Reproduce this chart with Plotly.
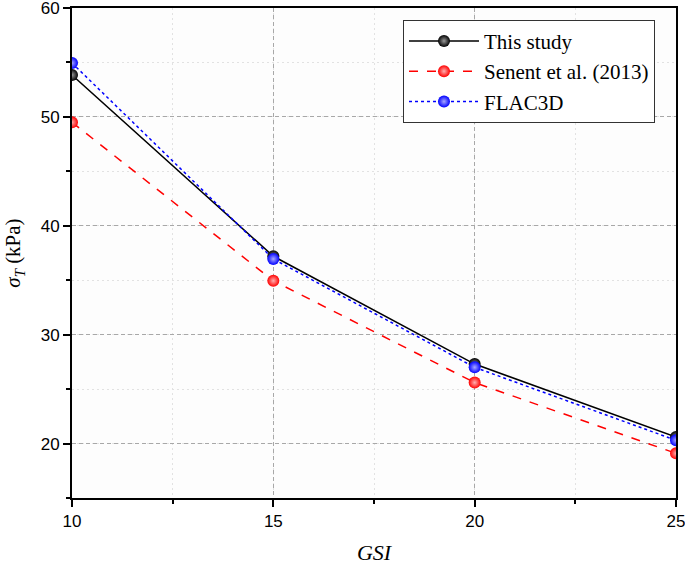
import plotly.graph_objects as go

gsi = [10, 15, 20, 25]
this_study = [53.85, 37.2, 27.3, 20.6]
senent = [49.5, 34.95, 25.6, 19.1]
flac3d = [54.95, 36.95, 27.0, 20.3]

series = [
    ("This study", this_study, "#000000", "#9A9A9A", "solid"),
    ("Senent et al. (2013)", senent, "#FF0000", "#FFB0B0", "dash"),
    ("FLAC3D", flac3d, "#0000FF", "#A8A8FF", "dot"),
]

fig = go.Figure()
for name, vals, color, shine, dash in series:
    fig.add_trace(go.Scatter(
        x=gsi, y=vals, name=name,
        mode="lines+markers",
        line=dict(color=color, width=1.5, dash=dash),
        marker=dict(size=12, color=color,
                    gradient=dict(type="radial", color=shine),
                    line=dict(width=0)),
    ))

axis_common = dict(
    showline=True, linecolor="black", linewidth=2, mirror=True,
    ticks="outside", ticklen=7, tickwidth=2, tickcolor="black",
    showgrid=True, gridcolor="#A8A8A8", griddash="4px,3px", gridwidth=1,
    zeroline=False, automargin=False, ticklabeloverflow="allow",
    tickfont=dict(family="Liberation Sans, Arial", size=17, color="black"),
)

fig.update_layout(
    width=685, height=565,
    paper_bgcolor="white",
    plot_bgcolor="#FDFDFD",
    margin=dict(l=72, r=9, t=8, b=67),
    xaxis=dict(
        range=[10, 25], tickvals=[10, 15, 20, 25],
        minor=dict(dtick=2.5, tick0=10, ticks="outside", ticklen=4, tickwidth=1.5,
                   tickcolor="black", showgrid=True, gridcolor="#E2E2E2", griddash="2px,3px"),
        title=dict(text="<i>GSI</i>", font=dict(family="Liberation Serif, Times New Roman", size=22, color="black"),
                   standoff=20),
        **axis_common,
    ),
    yaxis=dict(
        range=[15, 60], tickvals=[20, 30, 40, 50, 60],
        minor=dict(dtick=5, tick0=15, ticks="outside", ticklen=4, tickwidth=1.5,
                   tickcolor="black", showgrid=True, gridcolor="#E2E2E2", griddash="2px,3px"),
        title=dict(text="<i>σ</i><sub><i>T</i></sub> (kPa)",
                   font=dict(family="Liberation Serif, Times New Roman", size=21, color="black"),
                   standoff=14),
        **axis_common,
    ),
    legend=dict(
        x=0.548, y=0.976, xanchor="left", yanchor="top",
        bgcolor="white", bordercolor="#333333", borderwidth=1,
        font=dict(family="Liberation Serif, Times New Roman", size=21, color="black"),
        itemwidth=70, tracegroupgap=0,
    ),
    showlegend=True,
)

# page has a default 8px body margin; drop it so the figure fills the window
fig.write_html("out.html", config={"displayModeBar": False},
               post_script="document.body.style.margin='0px';")
